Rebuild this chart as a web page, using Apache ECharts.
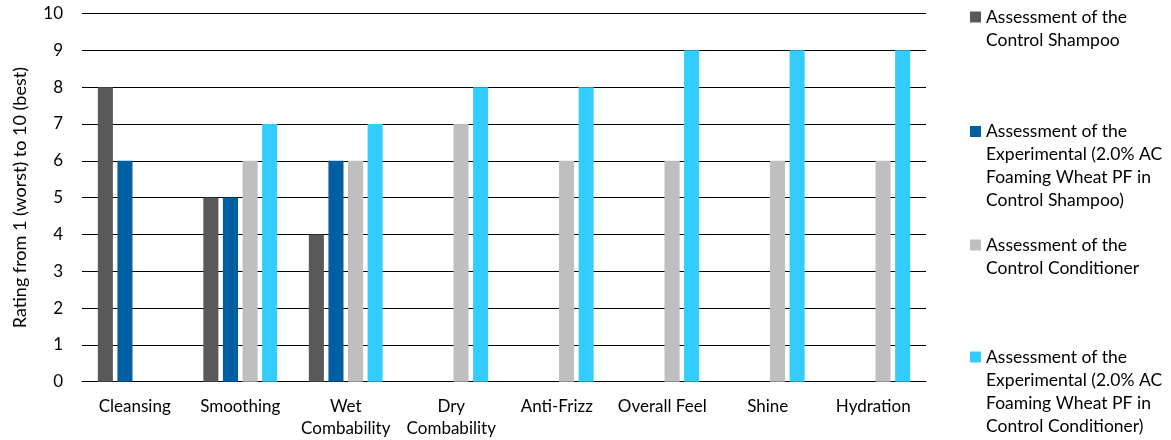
<!DOCTYPE html>
<html>
<head>
<meta charset="utf-8">
<script src="https://cdn.jsdelivr.net/npm/echarts@6/dist/echarts.min.js"></script>
<style>
  html, body { margin: 0; padding: 0; background: #fff; }
  #chart { width: 1171px; height: 440px; }
</style>
</head>
<body>
<div id="chart"></div>
<script>
const categories = ["Cleansing", "Smoothing", "Wet\nCombability", "Dry\nCombability", "Anti-Frizz", "Overall Feel", "Shine", "Hydration"];
const yTicks = [0, 1, 2, 3, 4, 5, 6, 7, 8, 9, 10];

const controlShampoo = [8, 5, 4, null, null, null, null, null];
const expShampoo = [6, 5, 6, null, null, null, null, null];
const controlConditioner = [null, 6, 6, 7, 6, 6, 6, 6];
const expConditioner = [null, 7, 7, 8, 8, 9, 9, 9];

const seriesNames = [
  "Assessment of the Control Shampoo",
  "Assessment of the Experimental (2.0% AC Foaming Wheat PF in Control Shampoo)",
  "Assessment of the Control Conditioner",
  "Assessment of the Experimental (2.0% AC Foaming Wheat PF in Control Conditioner)"
];
const legendLines = [
  ["Assessment of the", "Control Shampoo"],
  ["Assessment of the", "Experimental (2.0% AC", "Foaming Wheat PF in", "Control Shampoo)"],
  ["Assessment of the", "Control Conditioner"],
  ["Assessment of the", "Experimental (2.0% AC", "Foaming Wheat PF in", "Control Conditioner)"]
];
const colors = ["#595959", "#005EA2", "#BFBFBF", "#33CCFF"];

const FONT = "Lato";
const LH = 23;
// y centre of the first legend line for each entry
const legendFirstLine = [17, 131.5, 245, 357];

const myChart = echarts.init(document.getElementById("chart"));

// legend text is centred on its icon, so blank lines are put above the text
// to bring the icon level with the first line
const legends = seriesNames.map((name, i) => {
  const n = legendLines[i].length;
  return {
    data: [name],
    left: 970,
    top: legendFirstLine[i] - LH / 2 - (n - 1) * LH,
    padding: 0,
    itemWidth: 11,
    itemHeight: 11,
    icon: "rect",
    selectedMode: false,
    formatter: () => "\n".repeat(n - 1) + legendLines[i].join("\n"),
    textStyle: {
      fontFamily: FONT,
      fontSize: 17.5,
      color: "#000",
      lineHeight: LH
    }
  };
});

const dataList = [controlShampoo, expShampoo, controlConditioner, expConditioner];

const option = {
  animation: false,
  color: colors,
  grid: {
    left: 82,
    right: 245,
    top: 13.5,
    bottom: 58.3,
    outerBoundsMode: "none"
  },
  legend: legends,
  xAxis: {
    type: "category",
    data: categories,
    axisLine: { lineStyle: { color: "#000", width: 1 } },
    axisTick: { show: false },
    axisLabel: {
      interval: 0,
      margin: 14,
      fontFamily: FONT,
      fontSize: 17,
      lineHeight: 22,
      color: "#000"
    }
  },
  yAxis: {
    type: "value",
    min: yTicks[0],
    max: yTicks[yTicks.length - 1],
    interval: 1,
    name: "Rating from 1 (worst) to 10 (best)",
    nameLocation: "middle",
    nameGap: 53,
    nameTextStyle: { fontFamily: FONT, fontSize: 18, color: "#000" },
    axisLine: { show: false },
    axisTick: { show: false },
    axisLabel: { margin: 19, fontFamily: FONT, fontSize: 17, color: "#000" },
    splitLine: { lineStyle: { color: "#000", width: 1 } }
  },
  series: dataList.map((d, i) => ({
    name: seriesNames[i],
    type: "bar",
    data: d,
    barGap: "30%",
    barCategoryGap: "30%",
    itemStyle: { color: colors[i] }
  }))
};

myChart.setOption(option);
</script>
</body>
</html>
